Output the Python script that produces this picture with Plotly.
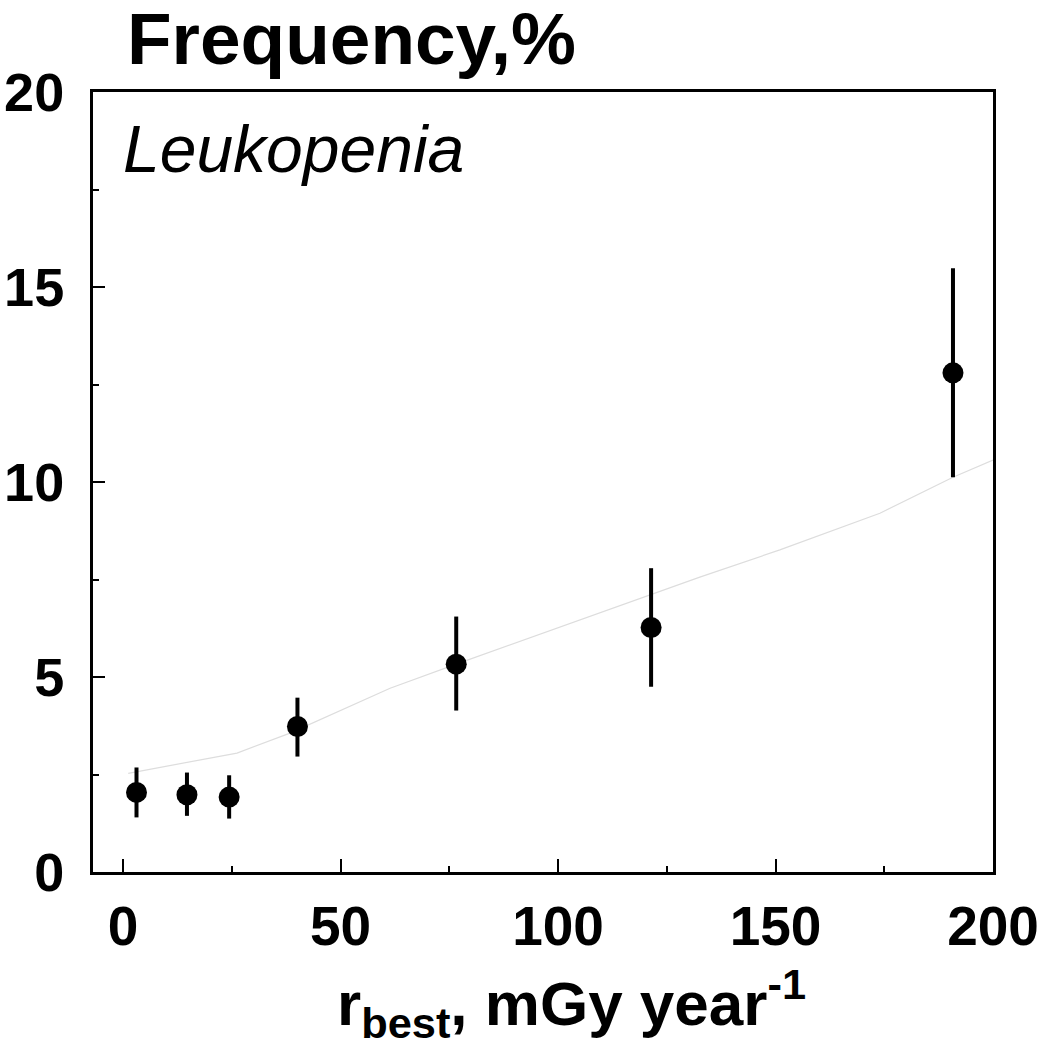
import plotly.graph_objects as go

# Data
dose = [3.1, 14.7, 24.4, 40.1, 76.6, 121.4, 190.8]
freq = [2.04, 1.98, 1.92, 3.73, 5.33, 6.27, 12.80]
err_hi = [2.68, 2.55, 2.48, 4.47, 6.55, 7.79, 15.48]
err_lo = [1.40, 1.44, 1.37, 2.96, 4.14, 4.75, 10.12]

fit_x = [1.2, 26.2, 38.4, 50, 61.4, 76.6, 100, 121.4, 132.6, 151, 174, 190.8, 200]
fit_y = [2.53, 3.05, 3.56, 4.14, 4.71, 5.33, 6.27, 7.13, 7.56, 8.26, 9.2, 10.12, 10.56]

x_ticks = [0, 50, 100, 150, 200]
y_ticks = [0, 5, 10, 15, 20]

plus = [h - f for h, f in zip(err_hi, freq)]
minus = [f - l for f, l in zip(freq, err_lo)]

fig = go.Figure()
fig.add_trace(go.Scatter(
    x=fit_x, y=fit_y, mode="lines",
    line=dict(color="#dddddd", width=1.2),
    showlegend=False, hoverinfo="skip"))
fig.add_trace(go.Scatter(
    x=dose, y=freq, mode="markers",
    marker=dict(color="black", size=21, symbol="circle"),
    error_y=dict(type="data", symmetric=False, array=plus, arrayminus=minus,
                 color="black", thickness=4, width=0),
    showlegend=False))

font_family = "Liberation Sans, Arial, sans-serif"

fig.update_layout(
    width=1037, height=1050,
    margin=dict(l=93, r=44, t=92, b=178),
    plot_bgcolor="white", paper_bgcolor="white",
    font=dict(family=font_family, color="black"),
    xaxis=dict(
        range=[-6.9, 200], tickvals=x_ticks, ticktext=[str(v) for v in x_ticks],
        showgrid=False, zeroline=False, automargin=False,
        showline=True, linecolor="black", linewidth=3, mirror=True,
        ticks="inside", ticklen=13, tickwidth=1.5, tickcolor="black",
        minor=dict(ticks="inside", ticklen=6, tickwidth=1.5, tickcolor="black", dtick=25, tick0=0),
        tickfont=dict(size=55, family=font_family, weight="bold", color="black"),
        ticklabelstandoff=4, ticklabeloverflow="allow",
    ),
    yaxis=dict(
        range=[0, 20], tickvals=y_ticks, ticktext=[str(v) for v in y_ticks],
        showgrid=False, zeroline=False, automargin=False,
        showline=True, linecolor="black", linewidth=3, mirror=True,
        ticks="inside", ticklen=12, tickwidth=1.5, tickcolor="black",
        minor=dict(ticks="inside", ticklen=6, tickwidth=1.5, tickcolor="black", dtick=2.5, tick0=0),
        tickfont=dict(size=54, family=font_family, weight="bold", color="black"),
        ticklabelstandoff=15, ticklabeloverflow="allow",
    ),
    annotations=[
        dict(text="<b>Frequency,%</b>", xref="paper", yref="paper",
             x=0.035, y=1.0, xanchor="left", yanchor="bottom", yshift=11,
             showarrow=False, font=dict(size=73, family=font_family, color="black")),
        dict(text="<i>Leukopenia</i>", xref="paper", yref="paper",
             x=0.031, y=0.99, xanchor="left", yanchor="top", yshift=-10,
             showarrow=False, font=dict(size=66, family=font_family, color="black")),
        dict(text="<b>r<sub>best</sub>, mGy year<sup>-1</sup></b>", xref="paper", yref="paper",
             x=0.532, y=0, xanchor="center", yanchor="top", yshift=-86,
             showarrow=False, font=dict(size=62, family=font_family, color="black")),
    ],
)

fig.write_html("out.html", config={"displayModeBar": False},
               post_script="document.body.style.margin='0';")
